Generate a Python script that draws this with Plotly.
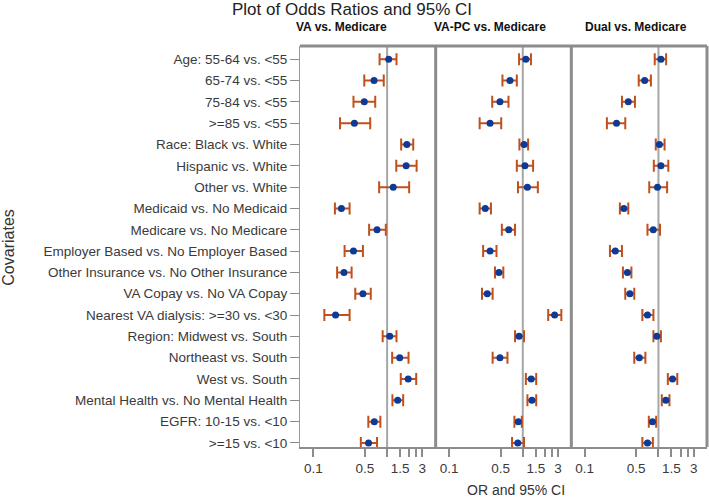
import plotly.graph_objects as go

covariates = [
    "Age: 55-64 vs. <55", "65-74 vs. <55", "75-84 vs. <55", ">=85 vs. <55",
    "Race: Black vs. White", "Hispanic vs. White", "Other vs. White",
    "Medicaid vs. No Medicaid", "Medicare vs. No Medicare",
    "Employer Based vs. No Employer Based", "Other Insurance vs. No Other Insurance",
    "VA Copay vs. No VA Copay", "Nearest VA dialysis: >=30 vs. <30",
    "Region: Midwest vs. South", "Northeast vs. South", "West vs. South",
    "Mental Health vs. No Mental Health", "EGFR: 10-15 vs. <10", ">=15 vs. <10",
]

panel_titles = ["VA vs. Medicare", "VA-PC vs. Medicare", "Dual vs. Medicare"]

# odds ratios and 95% CI bounds per comparison
va_or = [1.05, 0.665, 0.49, 0.36, 1.85, 1.81, 1.21, 0.24, 0.73,
         0.35, 0.26, 0.47, 0.20, 1.085, 1.48, 1.93, 1.39, 0.67, 0.56]
va_lo = [0.79, 0.49, 0.35, 0.23, 1.55, 1.33, 0.78, 0.196, 0.57,
         0.265, 0.21, 0.37, 0.141, 0.87, 1.17, 1.53, 1.18, 0.556, 0.44]
va_hi = [1.34, 0.90, 0.69, 0.59, 2.26, 2.51, 1.99, 0.31, 0.96,
         0.47, 0.33, 0.60, 0.31, 1.34, 1.95, 2.48, 1.65, 0.81, 0.73]

vapc_or = [1.10, 0.67, 0.49, 0.36, 1.04, 1.07, 1.155, 0.31, 0.645,
           0.36, 0.475, 0.33, 2.70, 0.89, 0.49, 1.30, 1.33, 0.87, 0.855]
vapc_lo = [0.89, 0.53, 0.385, 0.26, 0.90, 0.83, 0.86, 0.26, 0.52,
           0.29, 0.42, 0.28, 2.21, 0.785, 0.39, 1.10, 1.155, 0.77, 0.715]
vapc_hi = [1.29, 0.83, 0.64, 0.51, 1.18, 1.38, 1.60, 0.37, 0.785,
           0.44, 0.545, 0.39, 3.33, 1.04, 0.62, 1.52, 1.52, 0.97, 1.04]

dual_or = [1.08, 0.65, 0.39, 0.27, 1.03, 1.08, 0.97, 0.34, 0.85,
           0.26, 0.38, 0.41, 0.71, 0.95, 0.55, 1.55, 1.26, 0.83, 0.71]
dual_lo = [0.89, 0.54, 0.32, 0.20, 0.92, 0.865, 0.75, 0.30, 0.71,
           0.22, 0.33, 0.355, 0.605, 0.855, 0.47, 1.34, 1.11, 0.74, 0.605]
dual_hi = [1.27, 0.79, 0.48, 0.355, 1.21, 1.36, 1.31, 0.39, 1.05,
           0.32, 0.43, 0.47, 0.855, 1.08, 0.665, 1.80, 1.41, 0.93, 0.84]

tick_vals = [0.1, 0.5, 1, 1.5, 2, 2.5, 3]
tick_text = ["0.1", "0.5", "", "1.5", "", "", "3"]

panels = [(va_or, va_lo, va_hi), (vapc_or, vapc_lo, vapc_hi), (dual_or, dual_lo, dual_hi)]
rows = list(range(len(covariates)))
y_range = [18.19, -0.62]

fig = go.Figure()
for i, (orv, lo, hi) in enumerate(panels):
    xa = "x" if i == 0 else f"x{i + 1}"
    # reference line at OR = 1
    fig.add_trace(go.Scatter(
        x=[1, 1], y=y_range, xaxis=xa, yaxis="y", mode="lines",
        line=dict(color="#a6a6a6", width=2), hoverinfo="skip", showlegend=False,
    ))
    fig.add_trace(go.Scatter(
        x=orv, y=rows, xaxis=xa, yaxis="y", mode="markers",
        marker=dict(color="#0d3a96", size=7),
        error_x=dict(
            type="data", symmetric=False,
            array=[h - o for h, o in zip(hi, orv)],
            arrayminus=[o - l for o, l in zip(orv, lo)],
            color="#c0501c", thickness=2, width=6,
        ),
        showlegend=False,
    ))

axis_font = dict(family="Arial", size=13.5, color="#3a3a3a")
x_common = dict(
    type="log", range=[-1.181, 0.658], tickvals=tick_vals, ticktext=tick_text,
    ticks="outside", ticklen=8, tickwidth=1.5, tickcolor="#8c8c8c",
    showline=True, linecolor="#8c8c8c", linewidth=1.5,
    showgrid=False, zeroline=False, tickfont=axis_font, anchor="y",
)
w = 1 / 3
fig.update_layout(
    width=709, height=502,
    margin=dict(l=300, r=2, t=46, b=55),
    paper_bgcolor="white", plot_bgcolor="white",
    xaxis=dict(domain=[0, w], **x_common),
    xaxis2=dict(domain=[w, 2 * w], **x_common),
    xaxis3=dict(domain=[2 * w, 1], **x_common),
    yaxis=dict(
        range=y_range, tickvals=rows, ticktext=covariates,
        ticks="outside", ticklen=9, tickcolor="#8c8c8c",
        showline=True, linecolor="#9a9a9a", linewidth=1,
        showgrid=False, zeroline=False, tickfont=axis_font,
    ),
)

# panel frame: top edge, separators, right edge
frame = dict(type="line", xref="paper", yref="paper", line=dict(color="#8c8c8c", width=3))
fig.add_shape(x0=0, x1=1, y0=1, y1=1, **frame)
fig.add_shape(x0=w, x1=w, y0=0, y1=1, **frame)
fig.add_shape(x0=2 * w, x1=2 * w, y0=0, y1=1, **frame)
fig.add_shape(x0=1, x1=1, y0=0, y1=1, **frame)

centred = dict(xref="paper", yref="paper", xanchor="center", yanchor="middle", showarrow=False)
fig.add_annotation(text="Plot of Odds Ratios and 95% CI", x=0.128, y=1.092,
                   font=dict(family="Arial", size=17, color="#222222"), **centred)
for xc, t in zip([0.103, 0.467, 0.826], panel_titles):
    fig.add_annotation(text=f"<b>{t}</b>", x=xc, y=1.047,
                       font=dict(family="Arial", size=12, color="#111111"), **centred)
fig.add_annotation(text="OR and 95% CI", x=0.531, y=-0.107,
                   font=dict(family="Arial", size=14, color="#333333"), **centred)
fig.add_annotation(text="Covariates", x=-0.716, y=0.496, textangle=-90,
                   font=dict(family="Arial", size=16, color="#333333"), **centred)

# drop the default 8px page margin so the figure fills the window
fig.write_html("out.html", config={"displayModeBar": False},
               post_script="document.body.style.margin = '0';")
